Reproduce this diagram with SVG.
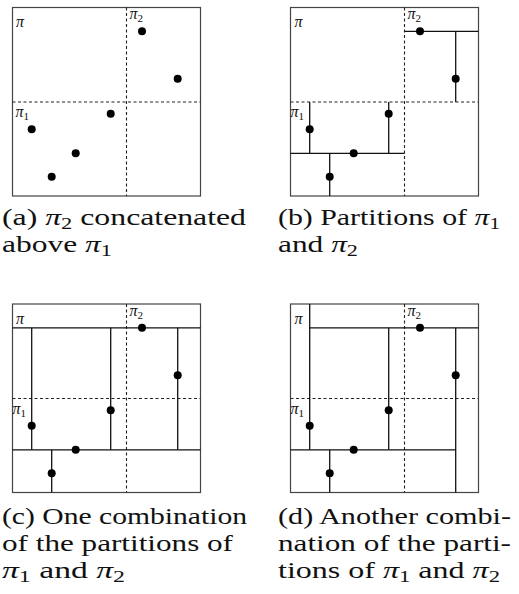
<svg xmlns="http://www.w3.org/2000/svg" xmlns:xlink="http://www.w3.org/1999/xlink" width="519" height="594" viewBox="0 0 519 594">
<style>
.frame{fill:none;stroke:#444;stroke-width:1.2}
.dash{fill:none;stroke:#222;stroke-width:1.1;stroke-dasharray:3 2.5}
.part{fill:none;stroke:#111;stroke-width:1.3}
.dot{fill:#000}
.lbl{font-family:'Liberation Serif',serif;font-style:italic;font-size:16px;fill:#111}
.sub{font-style:normal;font-size:11px}
.cap{font-family:'Liberation Serif',serif;font-size:24px;fill:#111}
.pi{font-style:italic}
.cs{font-size:17px}
</style>
<defs>
<g id="base">
<rect class="frame" x="12.5" y="7.5" width="188" height="188.5"/>
<line class="dash" x1="126.5" y1="7.5" x2="126.5" y2="196"/>
<line class="dash" x1="12.5" y1="102" x2="200.5" y2="102"/>
</g>
<g id="dots">
<circle class="dot" cx="142" cy="31.3" r="4"/>
<circle class="dot" cx="177.7" cy="78.7" r="4"/>
<circle class="dot" cx="110.7" cy="113.7" r="4"/>
<circle class="dot" cx="31.7" cy="129.3" r="4"/>
<circle class="dot" cx="75.7" cy="153.3" r="4"/>
<circle class="dot" cx="51.7" cy="176.7" r="4"/>
</g>
</defs>

<g id="panel-a">
<use xlink:href="#base"/>
<text class="lbl" x="16" y="26.5">π</text>
<text class="lbl" x="129.5" y="18.5">π<tspan class="sub" dy="3">2</tspan></text>
<text class="lbl" x="15.5" y="117">π<tspan class="sub" dy="3">1</tspan></text>
<use xlink:href="#dots"/>
</g>

<g id="panel-b" transform="translate(278,0)">
<use xlink:href="#base"/>
<g id="connectors-b">
<line class="part" x1="126.5" y1="31.3" x2="200.5" y2="31.3"/>
<line class="part" x1="177.7" y1="31.3" x2="177.7" y2="102"/>
<line class="part" x1="31.7" y1="102" x2="31.7" y2="153.3"/>
<line class="part" x1="12.5" y1="153.3" x2="126.5" y2="153.3"/>
<line class="part" x1="110.7" y1="102" x2="110.7" y2="153.3"/>
<line class="part" x1="51.7" y1="153.3" x2="51.7" y2="196"/>
</g>
<text class="lbl" x="16.5" y="26.5">π</text>
<text class="lbl" x="129.5" y="18.5">π<tspan class="sub" dy="3">2</tspan></text>
<text class="lbl" x="12.5" y="117">π<tspan class="sub" dy="3">1</tspan></text>
<use xlink:href="#dots"/>
</g>

<g id="panel-c" transform="translate(0,296.5)">
<use xlink:href="#base"/>
<g id="connectors-c">
<line class="part" x1="12.5" y1="31.3" x2="200.5" y2="31.3"/>
<line class="part" x1="12.5" y1="153.3" x2="200.5" y2="153.3"/>
<line class="part" x1="31.7" y1="31.3" x2="31.7" y2="153.3"/>
<line class="part" x1="110.7" y1="31.3" x2="110.7" y2="153.3"/>
<line class="part" x1="177.7" y1="31.3" x2="177.7" y2="153.3"/>
<line class="part" x1="51.7" y1="153.3" x2="51.7" y2="196"/>
</g>
<text class="lbl" x="16" y="27.5">π</text>
<text class="lbl" x="129.5" y="19.5">π<tspan class="sub" dy="3">2</tspan></text>
<text class="lbl" x="12.5" y="117">π<tspan class="sub" dy="3">1</tspan></text>
<use xlink:href="#dots"/>
</g>

<g id="panel-d" transform="translate(278,296.5)">
<use xlink:href="#base"/>
<g id="connectors-d">
<line class="part" x1="31.7" y1="7.5" x2="31.7" y2="153.3"/>
<line class="part" x1="31.7" y1="31.3" x2="200.5" y2="31.3"/>
<line class="part" x1="110.7" y1="31.3" x2="110.7" y2="153.3"/>
<line class="part" x1="177.7" y1="31.3" x2="177.7" y2="196"/>
<line class="part" x1="12.5" y1="153.3" x2="177.7" y2="153.3"/>
<line class="part" x1="51.7" y1="153.3" x2="51.7" y2="196"/>
</g>
<text class="lbl" x="16.5" y="27.5">π</text>
<text class="lbl" x="129.5" y="19.5">π<tspan class="sub" dy="3">2</tspan></text>
<text class="lbl" x="12.5" y="117">π<tspan class="sub" dy="3">1</tspan></text>
<use xlink:href="#dots"/>
</g>

<g id="captions">
<text class="cap" x="2" y="225" textLength="244" lengthAdjust="spacingAndGlyphs">(a) <tspan class="pi">π</tspan><tspan class="cs" dy="3.5">2</tspan><tspan dy="-3.5"> concatenated</tspan></text>
<text class="cap" x="2" y="252" textLength="110" lengthAdjust="spacingAndGlyphs">above <tspan class="pi">π</tspan><tspan class="cs" dy="3.5">1</tspan></text>
<text class="cap" x="278" y="225" textLength="222" lengthAdjust="spacingAndGlyphs">(b) Partitions of <tspan class="pi">π</tspan><tspan class="cs" dy="3.5">1</tspan></text>
<text class="cap" x="278" y="252" textLength="80" lengthAdjust="spacingAndGlyphs">and <tspan class="pi">π</tspan><tspan class="cs" dy="3.5">2</tspan></text>
<text class="cap" x="2" y="524" textLength="245" lengthAdjust="spacingAndGlyphs">(c) One combination</text>
<text class="cap" x="2" y="551" textLength="231" lengthAdjust="spacingAndGlyphs">of the partitions of</text>
<text class="cap" x="2" y="578" textLength="123" lengthAdjust="spacingAndGlyphs"><tspan class="pi">π</tspan><tspan class="cs" dy="3.5">1</tspan><tspan dy="-3.5"> and </tspan><tspan class="pi">π</tspan><tspan class="cs" dy="3.5">2</tspan></text>
<text class="cap" x="278" y="524" textLength="233" lengthAdjust="spacingAndGlyphs">(d) Another combi-</text>
<text class="cap" x="278" y="551" textLength="233" lengthAdjust="spacingAndGlyphs">nation of the parti-</text>
<text class="cap" x="278" y="578" textLength="222" lengthAdjust="spacingAndGlyphs">tions of <tspan class="pi">π</tspan><tspan class="cs" dy="3.5">1</tspan><tspan dy="-3.5"> and </tspan><tspan class="pi">π</tspan><tspan class="cs" dy="3.5">2</tspan></text>
</g>
</svg>
